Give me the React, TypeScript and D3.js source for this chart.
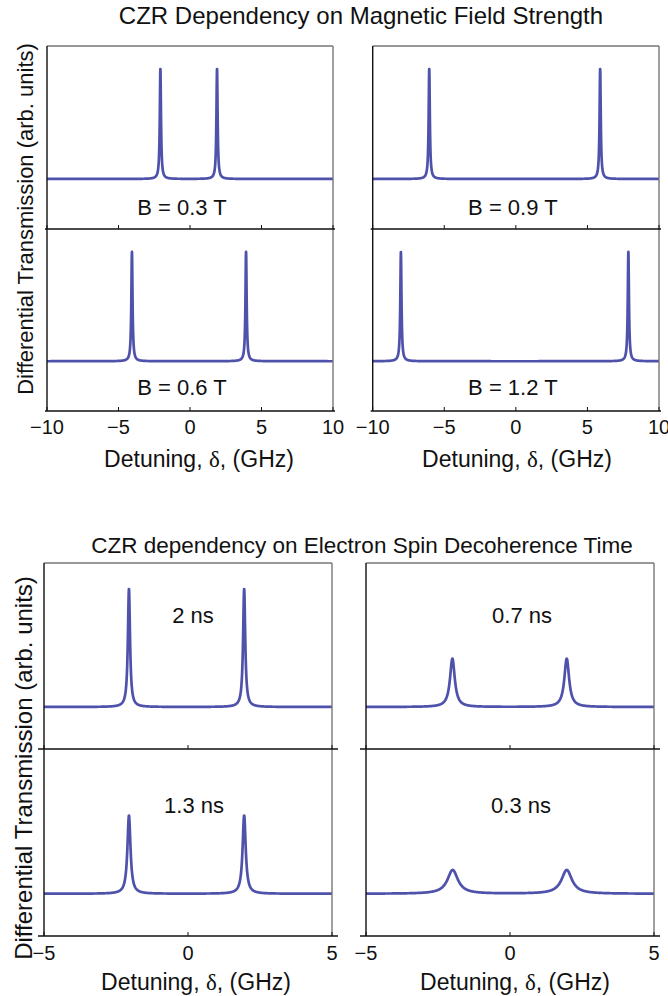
import React from "react";
import * as d3 from "d3";

// ---------- data ----------
const topTitle = "CZR Dependency on Magnetic Field Strength";
const bottomTitle = "CZR dependency on Electron Spin Decoherence Time";
const yAxisLabel = "Differential Transmission (arb. units)";

// Magnetic-field panels, order: top-left, top-right, bottom-left, bottom-right
const fieldLabels = ["B = 0.3 T", "B = 0.9 T", "B = 0.6 T", "B = 1.2 T"];
const fieldPeakLeft = [-2.07, -6.05, -4.06, -8.03]; // GHz
const fieldPeakRight = [1.89, 5.89, 3.92, 7.86]; // GHz
const fieldPeakHeight = [1, 1, 1, 1];
const fieldLinewidth = [0.05, 0.05, 0.05, 0.05]; // HWHM, GHz
const fieldTicks = [-10, -5, 0, 5, 10];

// Decoherence-time panels, order: top-left, top-right, bottom-left, bottom-right
const decohLabels = ["2 ns", "0.7 ns", "1.3 ns", "0.3 ns"];
const decohPeakLeft = [-2.05, -2.0, -2.05, -1.99];
const decohPeakRight = [1.95, 1.97, 1.95, 1.97];
const decohPeakHeight = [1, 0.41, 0.66, 0.2];
const decohLinewidth = [0.045, 0.1, 0.065, 0.22];
const decohTicks = [-5, 0, 5];

// ---------- layout ----------
const W = 668;
const H = 996;
const LINE = "#4f52ab";
const FONT = "'Liberation Sans', Arial, Helvetica, sans-serif";

type Section = {
  cols: [number, number][];
  rows: [number, number][];
  xDomain: [number, number];
  yDomain: [number, number];
  ticks: number[];
  labels: string[];
  left: number[];
  right: number[];
  heights: number[];
  widths: number[];
  labelPos: { dx: number; y: number }[];
  tickBaseline: number;
  xLabelBaseline: number;
  xLabelCenters: number[];
  step: number;
  axisOverhang: number;
};

const sections: Section[] = [
  {
    cols: [
      [47, 333],
      [372.7, 659],
    ],
    rows: [
      [46, 229],
      [229, 411],
    ],
    xDomain: [-10, 10],
    yDomain: [-0.455, 1.209],
    ticks: fieldTicks,
    labels: fieldLabels,
    left: fieldPeakLeft,
    right: fieldPeakRight,
    heights: fieldPeakHeight,
    widths: fieldLinewidth,
    labelPos: [
      { dx: -8, y: 215 },
      { dx: -3, y: 215 },
      { dx: -8, y: 395 },
      { dx: -3, y: 395 },
    ],
    tickBaseline: 434,
    xLabelBaseline: 467,
    xLabelCenters: [199, 517],
    step: 0.004,
    axisOverhang: 2,
  },
  {
    cols: [
      [44, 332],
      [366, 654],
    ],
    rows: [
      [563, 749],
      [749, 936],
    ],
    xDomain: [-5, 5],
    yDomain: [-0.356, 1.22],
    ticks: decohTicks,
    labels: decohLabels,
    left: decohPeakLeft,
    right: decohPeakRight,
    heights: decohPeakHeight,
    widths: decohLinewidth,
    labelPos: [
      { dx: 5, y: 622.7 },
      { dx: 12, y: 622.7 },
      { dx: 6, y: 812.7 },
      { dx: 11, y: 812.7 },
    ],
    tickBaseline: 960,
    xLabelBaseline: 990,
    xLabelCenters: [196, 515],
    step: 0.004,
    axisOverhang: 6,
  },
];

function lorentz(x: number, x0: number, g: number) {
  return 1 / (1 + ((x - x0) / g) * ((x - x0) / g));
}

function Panel({ s, idx }: { s: Section; idx: number }) {
  const col = s.cols[idx % 2];
  const row = s.rows[Math.floor(idx / 2)];
  const x = d3.scaleLinear().domain(s.xDomain).range(col);
  const y = d3.scaleLinear().domain(s.yDomain).range([row[1], row[0]]);
  const xs = d3.range(s.xDomain[0], s.xDomain[1] + s.step / 2, s.step);
  const pts: [number, number][] = xs.map((v) => [
    v,
    s.heights[idx] *
      (lorentz(v, s.left[idx], s.widths[idx]) +
        lorentz(v, s.right[idx], s.widths[idx])),
  ]);
  const line = d3
    .line<[number, number]>()
    .x((d) => x(d[0]))
    .y((d) => y(d[1]));
  const cx = (col[0] + col[1]) / 2 + s.labelPos[idx].dx;
  return (
    <g>
      <path
        d={line(pts) || ""}
        fill="none"
        stroke={LINE}
        strokeWidth={2.7}
        strokeLinejoin="round"
      />
      <text
        x={cx}
        y={s.labelPos[idx].y}
        textAnchor="middle"
        fontFamily={FONT}
        fontSize={22}
        fill="#111"
      >
        {s.labels[idx]}
      </text>
    </g>
  );
}

function Frame({ s, c }: { s: Section; c: number }) {
  const col = s.cols[c];
  const x = d3.scaleLinear().domain(s.xDomain).range(col);
  const top = s.rows[0][0];
  const mid = s.rows[0][1];
  const bot = s.rows[1][1];
  const o = s.axisOverhang;
  return (
    <g>
      <line x1={col[0]} x2={col[1]} y1={top} y2={top} stroke="#333" strokeWidth={1} />
      <line x1={col[1]} x2={col[1]} y1={top} y2={bot} stroke="#777" strokeWidth={1.4} />
      <line x1={col[0]} x2={col[0]} y1={top} y2={bot} stroke="#111" strokeWidth={1.4} />
      {[mid, bot].map((yy, i) => (
        <g key={i}>
          <line
            x1={col[0] - o}
            x2={col[1] + o}
            y1={yy}
            y2={yy}
            stroke="#111"
            strokeWidth={1.5}
          />
          {s.ticks.map((t) => (
            <line
              key={t}
              x1={x(t)}
              x2={x(t)}
              y1={yy}
              y2={yy - 4}
              stroke="#111"
              strokeWidth={1}
            />
          ))}
        </g>
      ))}
      {s.ticks.map((t) => (
        <text
          key={t}
          x={x(t)}
          y={s.tickBaseline}
          textAnchor="middle"
          fontFamily={FONT}
          fontSize={20}
          fill="#111"
        >
          {t < 0 ? "\u2212" + Math.abs(t) : String(t)}
        </text>
      ))}
      <text
        x={s.xLabelCenters[c]}
        y={s.xLabelBaseline}
        textAnchor="middle"
        fontFamily={FONT}
        fontSize={23}
        fill="#111"
      >
        Detuning,{" "}
        <tspan fontFamily="'Liberation Serif', 'Times New Roman', serif">δ</tspan>, (GHz)
      </text>
    </g>
  );
}

export default function App() {
  return (
    <svg
      width={W}
      height={H}
      viewBox={`0 0 ${W} ${H}`}
      style={{ position: "absolute", left: 0, top: 0, background: "#fff" }}
    >
      <rect width={W} height={H} fill="#fff" />
      <text x={361} y={24} textAnchor="middle" fontFamily={FONT} fontSize={24} fill="#111">
        {topTitle}
      </text>
      <text x={362} y={553} textAnchor="middle" fontFamily={FONT} fontSize={22.5} fill="#111">
        {bottomTitle}
      </text>
      <text
        transform="translate(33,219) rotate(-90)"
        textAnchor="middle"
        fontFamily={FONT}
        fontSize={22}
        fill="#111"
      >
        {yAxisLabel}
      </text>
      <text
        transform="translate(32,768) rotate(-90)"
        textAnchor="middle"
        fontFamily={FONT}
        fontSize={24}
        fill="#111"
      >
        {yAxisLabel}
      </text>
      {sections.map((s, si) => (
        <g key={si}>
          {[0, 1, 2, 3].map((i) => (
            <Panel key={i} s={s} idx={i} />
          ))}
          {[0, 1].map((c) => (
            <Frame key={c} s={s} c={c} />
          ))}
        </g>
      ))}
    </svg>
  );
}
